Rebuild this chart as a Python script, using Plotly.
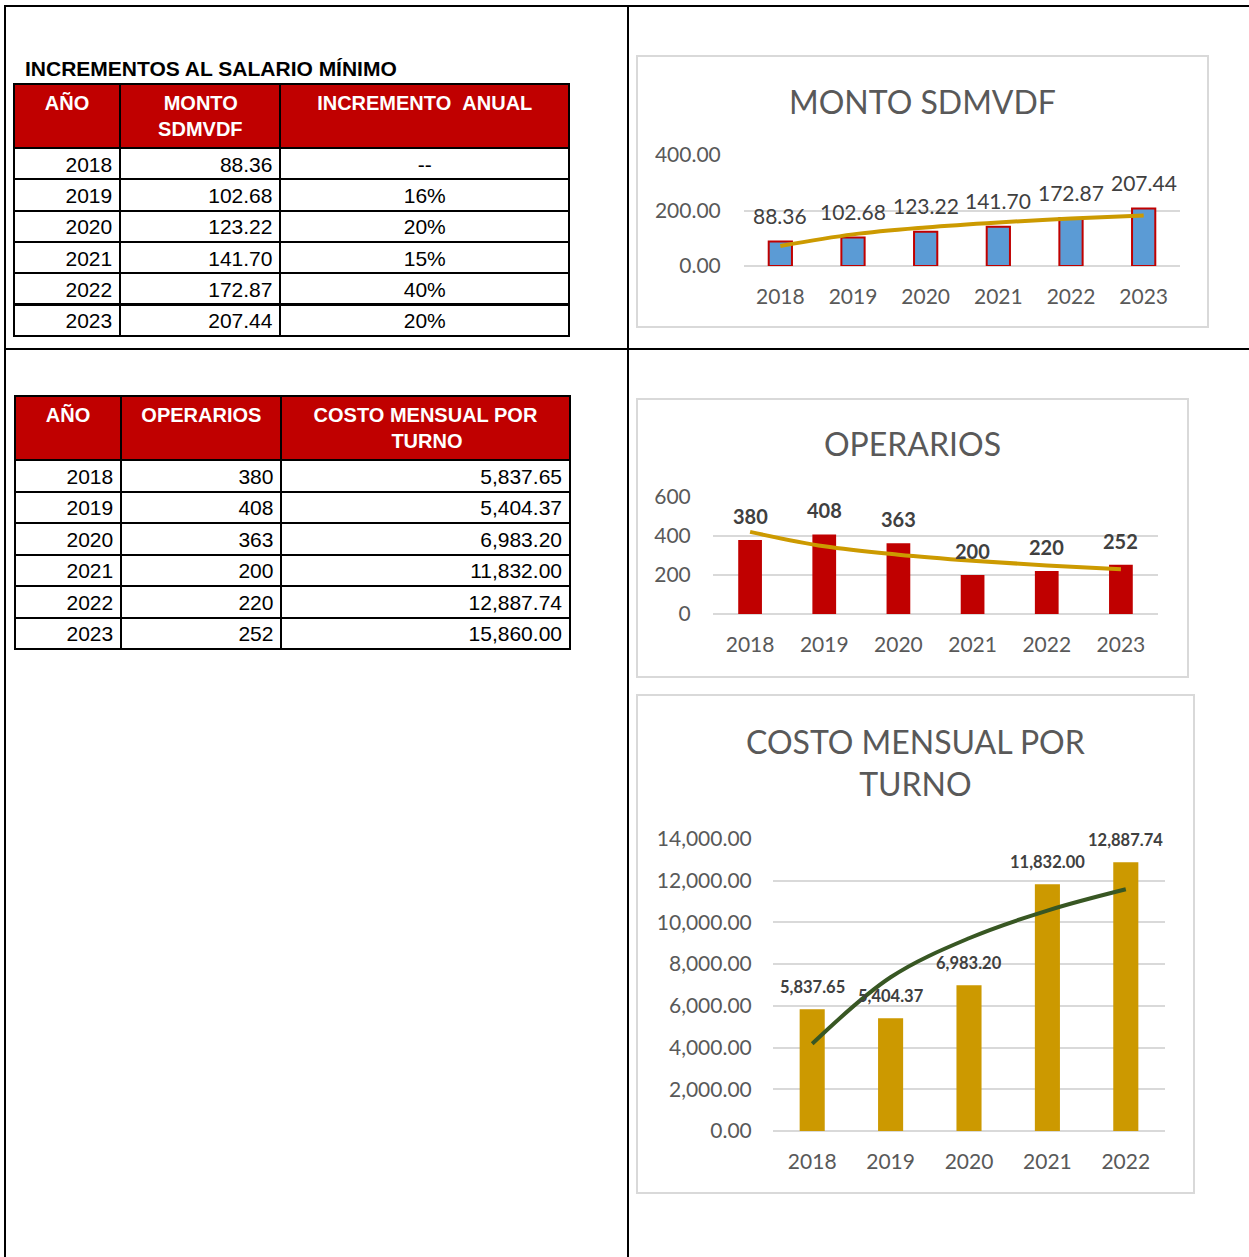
import plotly.graph_objects as go

# ---------------- data ----------------
anios = ["2018", "2019", "2020", "2021", "2022", "2023"]
monto_sdmvdf = [88.36, 102.68, 123.22, 141.70, 172.87, 207.44]
incremento_anual = ["--", "16%", "20%", "15%", "40%", "20%"]
operarios = [380, 408, 363, 200, 220, 252]
costo_mensual = [5837.65, 5404.37, 6983.20, 11832.00, 12887.74, 15860.00]

# trendlines
trend_monto = [72, 114, 139, 157, 171, 182]
trend_operarios = [421, 347, 304, 273, 249, 230]
anios_costo = anios[:5]
costo_chart = costo_mensual[:5]
trend_costo = [4180, 7370, 9240, 10570, 11590]

W, H = 1249, 1257
def px(x):
    return x / W
def py(y):
    return 1 - y / H

FONT_T = "Liberation Sans"
FONT_C = "Lato"
GRID = "#D9D9D9"
TICK = "#595959"
LBL = "#404040"
NB = "\u00a0"

fig = go.Figure()

# ---------------- tables ----------------
fig.add_trace(go.Table(
    domain=dict(x=[px(14), px(569)], y=[py(345), py(84)]),
    columnwidth=[106, 160, 288],
    header=dict(
        values=["<b>AÑO</b>", f"<b>{NB}MONTO<br>SDMVDF</b>", f"<b>INCREMENTO{NB}{NB}ANUAL</b>"],
        fill_color="#C00000", line=dict(color="black", width=2),
        font=dict(family=FONT_T, size=20, color="white"),
        align="center", height=61),
    cells=dict(
        values=[anios, [f"{v:.2f}" for v in monto_sdmvdf], incremento_anual],
        fill_color="white", line=dict(color="black", width=2),
        font=dict(family=FONT_T, size=21, color="black"),
        align=["right", "right", "center"], height=31.3),
))

fig.add_trace(go.Table(
    domain=dict(x=[px(15), px(570)], y=[py(660), py(396)]),
    columnwidth=[106, 160, 288],
    header=dict(
        values=["<b>AÑO</b>", "<b>OPERARIOS</b>", f"<b>COSTO MENSUAL POR<br>{NB * 14}TURNO</b>"],
        fill_color="#C00000", line=dict(color="black", width=2),
        font=dict(family=FONT_T, size=20, color="white"),
        align="center", height=60),
    cells=dict(
        values=[anios, [str(v) for v in operarios], [f"{v:,.2f}" for v in costo_mensual]],
        fill_color="white", line=dict(color="black", width=2),
        font=dict(family=FONT_T, size=21, color="black"),
        align=["right", "right", "right"], height=31.5),
))

# ---------------- chart 1: MONTO SDMVDF ----------------
fig.add_trace(go.Bar(x=anios, y=monto_sdmvdf, xaxis="x", yaxis="y",
                     marker=dict(color="#5B9BD5", line=dict(color="#C00000", width=2)),
                     showlegend=False, hoverinfo="x+y"))
fig.add_trace(go.Scatter(x=anios, y=trend_monto, xaxis="x", yaxis="y", mode="lines",
                         line=dict(color="#CC9A00", width=4, shape="spline"),
                         showlegend=False, hoverinfo="skip"))

# ---------------- chart 2: OPERARIOS ----------------
fig.add_trace(go.Bar(x=anios, y=operarios, xaxis="x2", yaxis="y2",
                     marker=dict(color="#C00000", line=dict(width=0)),
                     showlegend=False, hoverinfo="x+y"))
fig.add_trace(go.Scatter(x=anios, y=trend_operarios, xaxis="x2", yaxis="y2", mode="lines",
                         line=dict(color="#CC9A00", width=4, shape="spline"),
                         showlegend=False, hoverinfo="skip"))

# ---------------- chart 3: COSTO MENSUAL POR TURNO ----------------
fig.add_trace(go.Bar(x=anios_costo, y=costo_chart, xaxis="x3", yaxis="y3",
                     marker=dict(color="#CC9900", line=dict(width=0)),
                     showlegend=False, hoverinfo="x+y"))
fig.add_trace(go.Scatter(x=anios_costo, y=trend_costo, xaxis="x3", yaxis="y3", mode="lines",
                         line=dict(color="#385723", width=4, shape="spline"),
                         showlegend=False, hoverinfo="skip"))

annotations = []
# data labels (x given as category index)
for i, v in enumerate(monto_sdmvdf):
    annotations.append(dict(x=i, y=v, xref="x", yref="y", text=f"{v:.2f}", showarrow=False,
                            yanchor="middle", yshift=26,
                            font=dict(family=FONT_C, size=21, color=LBL)))
for i, v in enumerate(operarios):
    annotations.append(dict(x=i, y=v, xref="x2", yref="y2", text=f"<b>{v}</b>", showarrow=False,
                            yanchor="middle", yshift=24,
                            font=dict(family=FONT_C, size=20, color=LBL)))
for i, v in enumerate(costo_chart):
    annotations.append(dict(x=i, y=v, xref="x3", yref="y3", text=f"<b>{v:,.2f}</b>", showarrow=False,
                            yanchor="middle", yshift=22,
                            font=dict(family=FONT_C, size=16.5, color=LBL)))

# titles
annotations += [
    dict(x=px(23), y=py(68), xref="paper", yref="paper", text="<b>INCREMENTOS AL SALARIO MÍNIMO</b>",
         showarrow=False, xanchor="left", yanchor="middle",
         font=dict(family=FONT_T, size=21, color="black")),
    dict(x=px(922), y=py(101), xref="paper", yref="paper", text="MONTO SDMVDF",
         showarrow=False, xanchor="center", yanchor="middle",
         font=dict(family=FONT_C, size=32, color=TICK)),
    dict(x=px(912), y=py(443), xref="paper", yref="paper", text="OPERARIOS",
         showarrow=False, xanchor="center", yanchor="middle",
         font=dict(family=FONT_C, size=32, color=TICK)),
    dict(x=px(915), y=py(763), xref="paper", yref="paper", text="COSTO MENSUAL POR<br>TURNO",
         showarrow=False, xanchor="center", yanchor="middle",
         font=dict(family=FONT_C, size=32, color=TICK)),
]

shapes = []
# outer grid lines
for (x0, y0, x1, y1) in [(4, 6, 1249, 6), (5, 6, 5, 1257), (628, 6, 628, 1257), (5, 349, 1249, 349)]:
    shapes.append(dict(type="line", xref="paper", yref="paper",
                       x0=px(x0), y0=py(y0), x1=px(x1), y1=py(y1),
                       line=dict(color="black", width=2)))
# chart area borders
for (x0, y0, x1, y1) in [(637, 56, 1208, 327), (637, 399, 1188, 677), (637, 695, 1194, 1193)]:
    shapes.append(dict(type="rect", xref="paper", yref="paper",
                       x0=px(x0), y0=py(y0), x1=px(x1), y1=py(y1),
                       line=dict(color=GRID, width=2), fillcolor="rgba(0,0,0,0)", layer="below"))

def xax(d0, d1, anchor, cats):
    return dict(domain=[px(d0), px(d1)], anchor=anchor, type="category",
                categoryorder="array", categoryarray=cats,
                range=[-0.5, len(cats) - 0.5], autorange=False, automargin=False,
                showgrid=False, showline=False, zeroline=False,
                ticks="outside", ticklen=12, tickcolor="rgba(0,0,0,0)",
                tickfont=dict(family=FONT_C, size=21, color=TICK), fixedrange=True)

def yax(d0, d1, anchor, rng, dtick, fmt, standoff):
    return dict(domain=[py(d0), py(d1)], anchor=anchor, range=rng, autorange=False,
                automargin=False, dtick=dtick, tickformat=fmt,
                showgrid=True, gridcolor=GRID, gridwidth=2,
                zeroline=True, zerolinecolor=GRID, zerolinewidth=2, showline=False,
                ticks="outside", ticklen=standoff, tickcolor="rgba(0,0,0,0)",
                tickfont=dict(family=FONT_C, size=21, color=TICK), fixedrange=True)

fig.update_layout(
    width=W, height=H,
    margin=dict(l=0, r=0, t=0, b=0, autoexpand=False),
    paper_bgcolor="white", plot_bgcolor="white",
    bargap=0.68, showlegend=False,
    xaxis=xax(744, 1180, "y", anios),
    yaxis=yax(266, 155, "x", [0, 400], 200, ".2f", 18),
    xaxis2=xax(713, 1158, "y2", anios),
    yaxis2=yax(614, 497, "x2", [0, 600], 200, "d", 17),
    xaxis3=xax(773, 1165, "y3", anios_costo),
    yaxis3=yax(1131, 839, "x3", [0, 14000], 2000, ",.2f", 16),
    annotations=annotations,
    shapes=shapes,
)

fig.write_html("out.html", config={"displayModeBar": False},
               post_script="document.body.style.margin='0px';document.body.style.overflow='hidden';")
